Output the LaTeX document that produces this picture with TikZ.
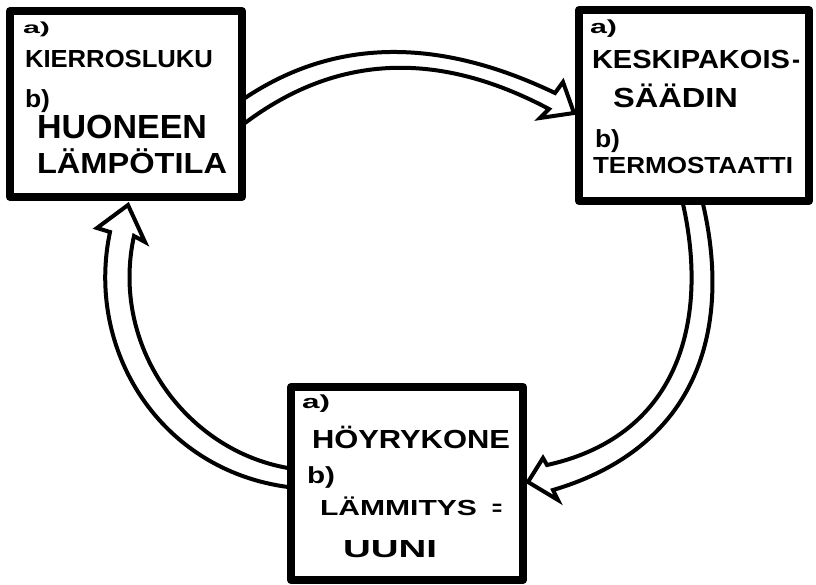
\documentclass[tikz,border=0pt]{standalone}
\usepackage{fontspec}
\setmainfont{Liberation Sans}
\usetikzlibrary{calc}
\newcommand\fitbox[3]{\resizebox{#1pt}{#2pt}{\raisebox{0pt}[\fontcharht\font`H][0pt]{#3}}}
\begin{document}
\begin{tikzpicture}[x=1pt,y=-1pt,
  box/.style={draw, line width=8pt, inner sep=0pt, outer sep=0pt, line join=round},
  arr/.style={line width=4pt, line join=miter, line cap=round},
  lbl/.style={anchor=base west, inner sep=0pt, outer sep=0pt, font=\bfseries}]
\fill[white] (0,0) rectangle (816,584);
\useasboundingbox (0,0) rectangle (816,584);
% boxes
\node[box, minimum width=232pt, minimum height=186pt] (b1) at (126,104) {};
\node[box, minimum width=230pt, minimum height=191pt] (b2) at (694,105.5) {};
\node[box, minimum width=232pt, minimum height=193pt] (b3) at (407,483.5) {};
% labels box 1
\node[lbl] (b1a) at (23,33) {\fitbox{27}{11}{a)}};
\node[lbl] (b1t1) at (25,67) {\fitbox{188}{17}{KIERROSLUKU}};
\node[lbl] (b1b) at (25,107) {\fitbox{25}{17}{b)}};
\node[lbl] (b1t2) at (37,138) {\fitbox{170}{23}{HUONEEN}};
\node[lbl] (b1t3) at (37,173) {\fitbox{190}{20}{LÄMPÖTILA}};
% labels box 2
\node[lbl] (b2a) at (590,33) {\fitbox{27}{13}{a)}};
\node[lbl] (b2t1) at (592,68) {\fitbox{198}{18}{KESKIPAKOIS}\hspace{2pt}\fitbox{8}{18}{-}};
\node[lbl] (b2t2) at (613,107) {\fitbox{125}{19}{SÄÄDIN}};
\node[lbl] (b2b) at (595,147) {\fitbox{25}{17}{b)}};
\node[lbl] (b2t3) at (593,173) {\fitbox{200}{16}{TERMOSTAATTI}};
% labels box 3
\node[lbl] (b3a) at (302,408) {\fitbox{28}{13}{a)}};
\node[lbl] (b3t1) at (312,448) {\fitbox{198}{18}{HÖYRYKONE}};
\node[lbl] (b3b) at (307,483) {\fitbox{28}{16}{b)}};
\node[lbl] (b3t2) at (320,515) {\fitbox{157}{15}{LÄMMITYS}\hspace{15pt}\fitbox{10}{15}{=}};
\node[lbl] (b3t3) at (343,557) {\fitbox{94}{17}{UUNI}};
% connector end points tied to the boxes
\coordinate (t0o) at ($(b1.east)+(3,-6)$);
\coordinate (t0i) at ($(b1.east)+(3,19)$);
\coordinate (ttip) at ($(b2.west)+(-5,7.5)$);
\coordinate (r0o) at ($(b2.south)+(9,3)$);
\coordinate (r0i) at ($(b2.south)+(-11,3)$);
\coordinate (rtip) at ($(b3.east)+(5,-1.5)$);
\coordinate (l0o) at ($(b3.west)+(-3,3.5)$);
\coordinate (l0i) at ($(b3.west)+(-3,-15.5)$);
\coordinate (ltip) at ($(b1.south)+(2,8)$);
% top arrow: b1 -> b2
\draw[arr] (t0o) .. controls (335,38) and (438,37) .. (555,93)
  -- (563,82) -- (ttip) -- (540,118) -- (549,109)
  .. controls (438,50) and (337,54) .. (t0i);
% right arrow: b2 -> b3
\draw[arr] (r0o) .. controls (730,320) and (705,445) .. (553,490)
  -- (558,500) -- (rtip) -- (543,458) -- (547,465)
  .. controls (683,435) and (708,315) .. (r0i);
% left arrow: b3 -> b1
\draw[arr] (l0o) .. controls (160,470) and (85,350) .. (110,232)
  -- (97,228) -- (ltip) -- (145,242) -- (134,236)
  .. controls (110,345) and (185,450) .. (l0i);
\end{tikzpicture}
\end{document}
